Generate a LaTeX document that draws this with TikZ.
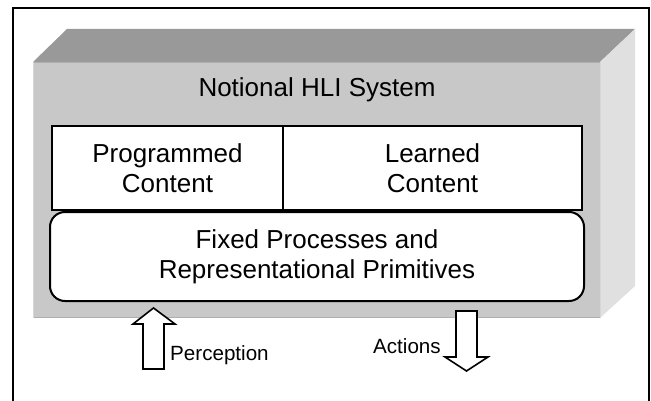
\documentclass[tikz,border=0pt]{standalone}
\usepackage{fontspec}
\setmainfont{Liberation Sans}
\begin{document}
\begin{tikzpicture}[x=1pt,y=-1pt,
  inbox/.style={draw=black,line width=2pt,fill=white,align=center,inner sep=0pt,
    font=\fontsize{26}{30}\selectfont},
  bigtext/.style={font=\fontsize{26}{30}\selectfont,inner sep=0pt},
  smalltext/.style={font=\fontsize{20.6}{24}\selectfont,inner sep=0pt},
  hollowarrow/.style={draw=black,line width=1.6pt,fill=white,line join=miter}]
\useasboundingbox (0,0) rectangle (651,401);
% outer frame
\draw[line width=2pt] (13,8) rectangle (649,404);
% 3D box
\fill[fill={rgb,255:red,153;green,153;blue,153}] (33,62) -- (67,29) -- (635,29) -- (600,62) -- cycle;
\fill[fill={rgb,255:red,224;green,224;blue,224}] (600,62) -- (635,29) -- (635,286) -- (600,318) -- cycle;
\fill[fill={rgb,255:red,200;green,200;blue,200}] (33,62) rectangle (600,318);
\draw[line width=1pt,draw={rgb,255:red,175;green,175;blue,175}] (33,62.5) -- (600,62.5);
\draw[line width=1pt,draw={rgb,255:red,175;green,175;blue,175}] (33,317.5) -- (600,317.5);
\draw[line width=1pt,draw={rgb,255:red,215;green,215;blue,215}] (33.5,62) -- (33.5,318);
\draw[line width=1pt,draw={rgb,255:red,215;green,215;blue,215}] (600.5,62) -- (600.5,318);
% title
\node[bigtext,anchor=base] (title) at (317,97) {Notional HLI System};
% content boxes
\node[inbox,minimum width=231pt,minimum height=84pt] (prog) at (167.5,168) {Programmed\\Content};
\node[inbox,minimum width=299pt,minimum height=84pt] (learn) at (432.5,168) {Learned\\Content};
\node[inbox,rounded corners=15pt,minimum width=534pt,minimum height=89pt] (fixed) at (317,256.5) {Fixed Processes and\\Representational Primitives};
% arrows
\draw[hollowarrow] (143,369) -- (143,324) -- (133,324) -- (153.5,308) -- (175,324) -- (164,324) -- (164,369) -- cycle;
\draw[hollowarrow] (456,311) -- (477,311) -- (477,357) -- (488,357) -- (466.5,371) -- (445,357) -- (456,357) -- cycle;
\node[smalltext,anchor=base west] (perc) at (170,360) {Perception};
\node[smalltext,anchor=base west] (act) at (373,353) {Actions};
\end{tikzpicture}
\end{document}
